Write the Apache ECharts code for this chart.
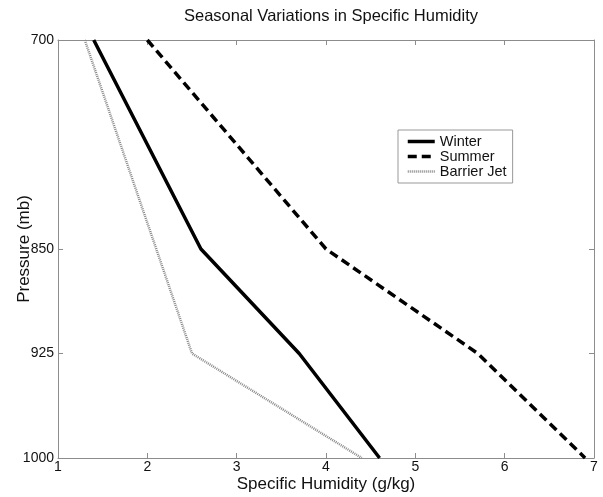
<!DOCTYPE html>
<html><head><meta charset="utf-8">
<script src="https://cdn.jsdelivr.net/npm/echarts@6/dist/echarts.min.js"></script>
<style>html,body{margin:0;padding:0;background:#fff}#c{width:603px;height:497px}</style>
</head><body><div id="c"></div>
<script>
const pressureLevels = [700, 850, 925, 1000];
const winterQ = [1.4, 2.6, 3.7, 4.6];
const summerQ = [2.0, 4.0, 5.7, 6.9];
const barrierQ = [1.3, 2.1, 2.5, 4.4];
const seriesNames = ['Winter', 'Summer', 'Barrier Jet'];
const yTicks = [700, 850, 925, 1000];

const pts = (xs) => xs.map((x, i) => [x, pressureLevels[i]]);
const font = 'Liberation Sans, Arial, sans-serif';
const axisGray = '#8c8c8c';
const legendWidths = [3.5, 3.5, 2.5];
const chart = echarts.init(document.getElementById('c'));
const baseX = {min: 1, max: 7, interval: 1, axisLine: {lineStyle: {color: axisGray, width: 1}}, splitLine: {show: false}};
const baseY = {inverse: true, min: 700, max: 1000, axisLine: {lineStyle: {color: axisGray, width: 1}}, splitLine: {show: false}};
chart.setOption({
  animation: false,
  title: {text: 'Seasonal Variations in Specific Humidity', left: 326, textAlign: 'center', top: 3,
    textStyle: {fontFamily: font, fontSize: 16.5, fontWeight: 'normal', color: '#111'}},
  grid: {left: 58, right: 9, top: 40, bottom: 39, containLabel: false, outerBoundsMode: 'none'},
  legend: {orient: 'vertical', left: 398, top: 130,
    data: seriesNames.map((n, i) => ({name: n, lineStyle: {width: legendWidths[i]}})),
    itemWidth: 27, itemHeight: 8, itemGap: 0,
    borderColor: '#999', borderWidth: 1, backgroundColor: '#fff', padding: [4, 6, 4, 8],
    itemStyle: {opacity: 0},
    textStyle: {fontFamily: font, fontSize: 14.5, color: '#111', lineHeight: 13}},
  xAxis: [
    Object.assign({}, baseX, {type: 'value', position: 'bottom', name: 'Specific Humidity (g/kg)', nameLocation: 'middle', nameGap: 18, nameMoveOverlap: false,
      nameTextStyle: {fontFamily: font, fontSize: 17, color: '#111'},
      axisTick: {inside: true, length: 5, lineStyle: {color: axisGray}},
      axisLabel: {fontFamily: font, fontSize: 14, color: '#111', margin: 2}}),
    Object.assign({}, baseX, {type: 'value', position: 'top', axisTick: {inside: true, length: 5, lineStyle: {color: axisGray}}, axisLabel: {show: false}})
  ],
  yAxis: [
    Object.assign({}, baseY, {type: 'value', position: 'left', name: 'Pressure (mb)', nameLocation: 'middle', nameGap: 25, nameMoveOverlap: false,
      nameTextStyle: {fontFamily: font, fontSize: 17, color: '#111'},
      axisTick: {inside: true, length: 5, customValues: yTicks, lineStyle: {color: axisGray}},
      axisLabel: {fontFamily: font, fontSize: 14, color: '#111', margin: 4, customValues: yTicks, formatter: (v) => String(v)}}),
    Object.assign({}, baseY, {type: 'value', position: 'right', axisTick: {inside: true, length: 5, customValues: yTicks, lineStyle: {color: axisGray}}, axisLabel: {show: false}})
  ],
  series: [
    {name: seriesNames[0], type: 'line', data: pts(winterQ), symbol: 'none', lineStyle: {color: '#000', width: 3.5, type: 'solid'}, itemStyle: {color: '#000'}},
    {name: seriesNames[1], type: 'line', data: pts(summerQ), symbol: 'none', lineStyle: {color: '#000', width: 3.5, type: [9, 5]}, itemStyle: {color: '#000'}},
    {name: seriesNames[2], type: 'line', data: pts(barrierQ), symbol: 'none', lineStyle: {color: '#888', width: 2.5, type: [1, 1]}, itemStyle: {color: '#888'}}
  ]
});
</script></body></html>
